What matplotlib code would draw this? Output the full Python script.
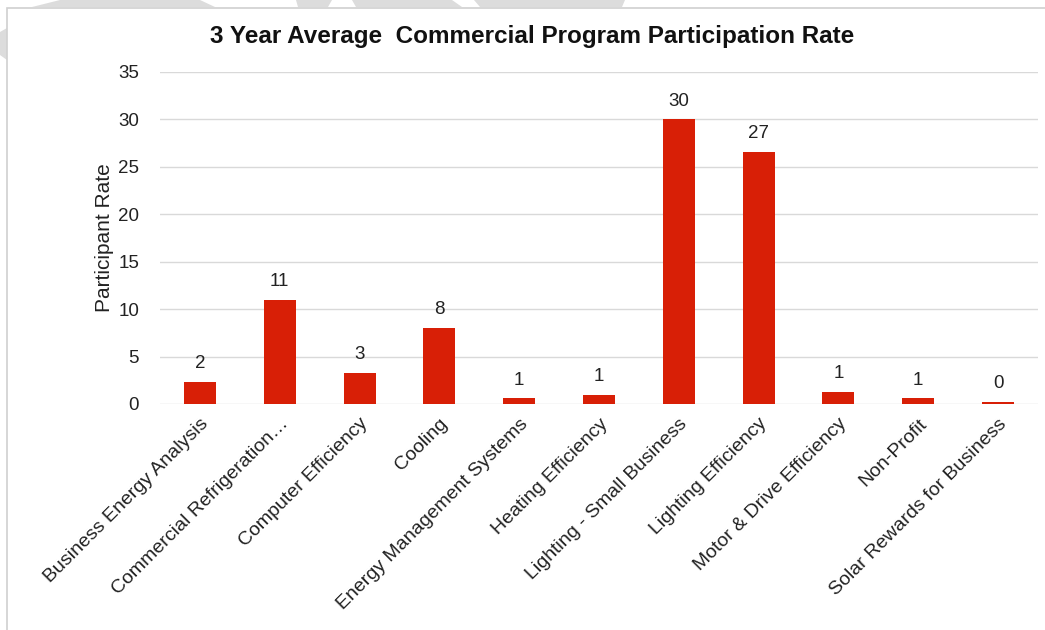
import matplotlib
matplotlib.use("Agg")
import matplotlib.pyplot as plt
from matplotlib.patches import Rectangle, Polygon

categories = [
    "Business Energy Analysis",
    "Commercial Refrigeration…",
    "Computer Efficiency",
    "Cooling",
    "Energy Management Systems",
    "Heating Efficiency",
    "Lighting - Small Business",
    "Lighting Efficiency",
    "Motor & Drive Efficiency",
    "Non-Profit",
    "Solar Rewards for Business",
]
values = [2.3, 11.0, 3.3, 8.0, 0.6, 1.0, 30.0, 26.6, 1.3, 0.6, 0.25]
yticks = [0, 5, 10, 15, 20, 25, 30, 35]
title = "3 Year Average  Commercial Program Participation Rate"
ylabel = "Participant Rate"

plt.rcParams['font.family'] = ['Liberation Sans', 'DejaVu Sans']

W, H = 1045, 630
fig = plt.figure(figsize=(W / 100, H / 100), dpi=100)

# faint watermark pieces above the chart frame
def px_poly(pts):
    return Polygon([(px / W, 1 - py / H) for px, py in pts], closed=True,
                   transform=fig.transFigure, facecolor='#dcdcdc', edgecolor='none',
                   linewidth=0, zorder=0)

for pts in [
    [(32, 7), (60, 0), (200, 0), (215, 7)],
    [(298, 7), (296, 0), (332, 0), (328, 7)],
    [(356, 7), (352, 0), (452, 0), (462, 7)],
    [(480, 7), (474, 0), (625, 0), (622, 7)],
    [(0, 32), (7, 28), (7, 60), (0, 55)],
]:
    fig.add_artist(px_poly(pts))

ax = fig.add_axes([160 / W, 1 - 404 / H, (1038 - 160) / W, (404 - 72) / H])

x = list(range(len(categories)))
ax.bar(x, values, width=0.4, color='#D81F06', zorder=3)
ax.set_xlim(-0.5, len(categories) - 0.5)
ax.set_ylim(0, 35)
ax.set_yticks(yticks)
ax.grid(axis='y', color='#d9d9d9', linewidth=1.0, zorder=0)
for s in ax.spines.values():
    s.set_visible(False)
ax.tick_params(axis='both', length=0, colors='#222222')
ax.tick_params(axis='y', pad=15, labelsize=13.5)
ax.set_xticks(x)
ax.set_xticklabels(categories, rotation=45, ha='right', rotation_mode='anchor')
ax.tick_params(axis='x', pad=8, labelsize=14)

for xi, v in zip(x, values):
    ax.annotate(f"{v:.0f}", (xi, v), xytext=(0, 7), textcoords='offset points',
                ha='center', va='bottom', fontsize=13.5, color='#222222')

fig.text(532 / W, 1 - 37 / H, title, ha='center', va='center',
         fontsize=17.5, fontweight='bold', color='#111111')
fig.text(104 / W, 1 - 238 / H, ylabel, ha='center', va='center',
         rotation=90, fontsize=15, color='#222222')

# chart frame
fig.add_artist(Rectangle((7 / W, -0.1), 1.2, 1 - 8 / H + 0.1, transform=fig.transFigure,
                         fill=False, edgecolor='#d0d0d0', linewidth=1.2))

fig.savefig("out.png", dpi=100)
